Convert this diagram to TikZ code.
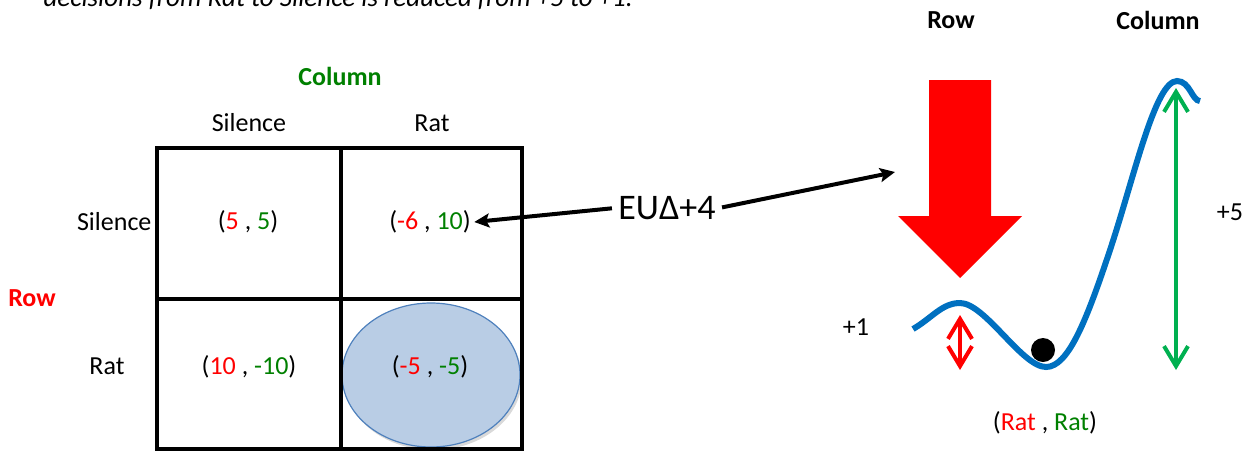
\documentclass[tikz,border=0pt]{standalone}
\usepackage{fontspec}
\setmainfont{Carlito}
\usetikzlibrary{arrows.meta,shadows}
\definecolor{rowred}{RGB}{255,0,0}
\definecolor{colgreen}{RGB}{0,128,0}
\definecolor{arrgreen}{RGB}{0,176,80}
\definecolor{wellblue}{RGB}{0,112,192}
\definecolor{ovalfill}{RGB}{185,205,229}
\definecolor{ovalline}{RGB}{79,129,189}
\newcommand{\rw}[1]{\textcolor{rowred}{#1}}
\newcommand{\cl}[1]{\textcolor{colgreen}{#1}}
\newcommand{\payoff}[2]{(\rw{#1} , \cl{#2})}

\begin{document}
\begin{tikzpicture}[x=1pt,y=-1pt,
  every node/.style={font=\fontsize{26}{31}\selectfont},
  head/.style={font=\fontsize{26}{31}\selectfont\bfseries},
  pointer/.style={line width=4pt,shorten <=3pt,-{Stealth[length=15pt,width=14pt,inset=3pt]}},
  span/.style={line width=4pt,{Straight Barb[length=20pt,width=24pt]}-{Straight Barb[length=20pt,width=24pt]}}]
 \useasboundingbox (0,0) rectangle (1246,451);
 \clip (0,0) rectangle (1246,451);

 % caption line cut off at the top
 \node[anchor=base west,font=\fontsize{27}{31}\selectfont\itshape] (caption) at (40,6)
   {decisions from Rat to Silence is reduced from +5 to +1.};

 % the game table
 \fill[ovalfill,draw=ovalline,line width=1.2pt,
   drop shadow={opacity=0.3,shadow xshift=2pt,shadow yshift=-3pt}]
   (431,375) ellipse (89 and 72);
 \draw[line width=4.5pt] (157,148) rectangle (522,449);
 \draw[line width=4.5pt] (341,148) -- (341,449);
 \draw[line width=4.5pt] (157,299) -- (522,299);

 \node[head,text=colgreen] (colhead) at (340,76) {Column};
 \node (colS) at (249,123) {Silence};
 \node (colR) at (432,123) {Rat};
 \node[head,text=rowred] (rowhead) at (32,298) {Row};
 \node[anchor=east] (rowS) at (155,222) {Silence};
 \node (rowR) at (107,366) {Rat};

 \node (ss) at (248,222) {\payoff{5}{5}};
 \node (sr) at (430,222) {\payoff{-6}{10}};
 \node (rs) at (249,367) {\payoff{10}{-10}};
 \node (rr) at (430,367) {\payoff{-5}{-5}};

 % the change in expected utility
 \node[font=\fontsize{36}{40}\selectfont] (eu) at (667,208) {EUΔ+4};
 \coordinate (well) at (895,172);
 \draw[pointer] (eu.west) -- (sr.east);
 \draw[pointer] (eu.east) -- (well);

 % the landscape
 \node[head] (rowtop) at (951,20) {Row};
 \node[head] (coltop) at (1158,20) {Column};
 \fill[rowred] (929,80) -- (991,80) -- (991,216) -- (1022,216) -- (960,278)
   -- (898,216) -- (929,216) -- cycle;
 \draw[wellblue,line width=6pt] (913,329) .. controls (932,318) and (942,303) .. (960,303)
   .. controls (985,303) and (1022,367) .. (1046,367)
   .. controls (1068,367) and (1086,322) .. (1110,250)
   .. controls (1134,178) and (1155,81) .. (1177,81)
   .. controls (1190,81) and (1192,101) .. (1200,101);
 \fill (1043,350) circle (12);
 \draw[span,rowred] (960,315) -- (960,370);
 \draw[span,arrgreen] (1176,88) -- (1176,370);
 \node (plus1) at (856,327) {+1};
 \node (plus5) at (1230,212) {+5};
 \node (eq) at (1045,423) {(\rw{Rat} , \cl{Rat})};
\end{tikzpicture}
\end{document}
